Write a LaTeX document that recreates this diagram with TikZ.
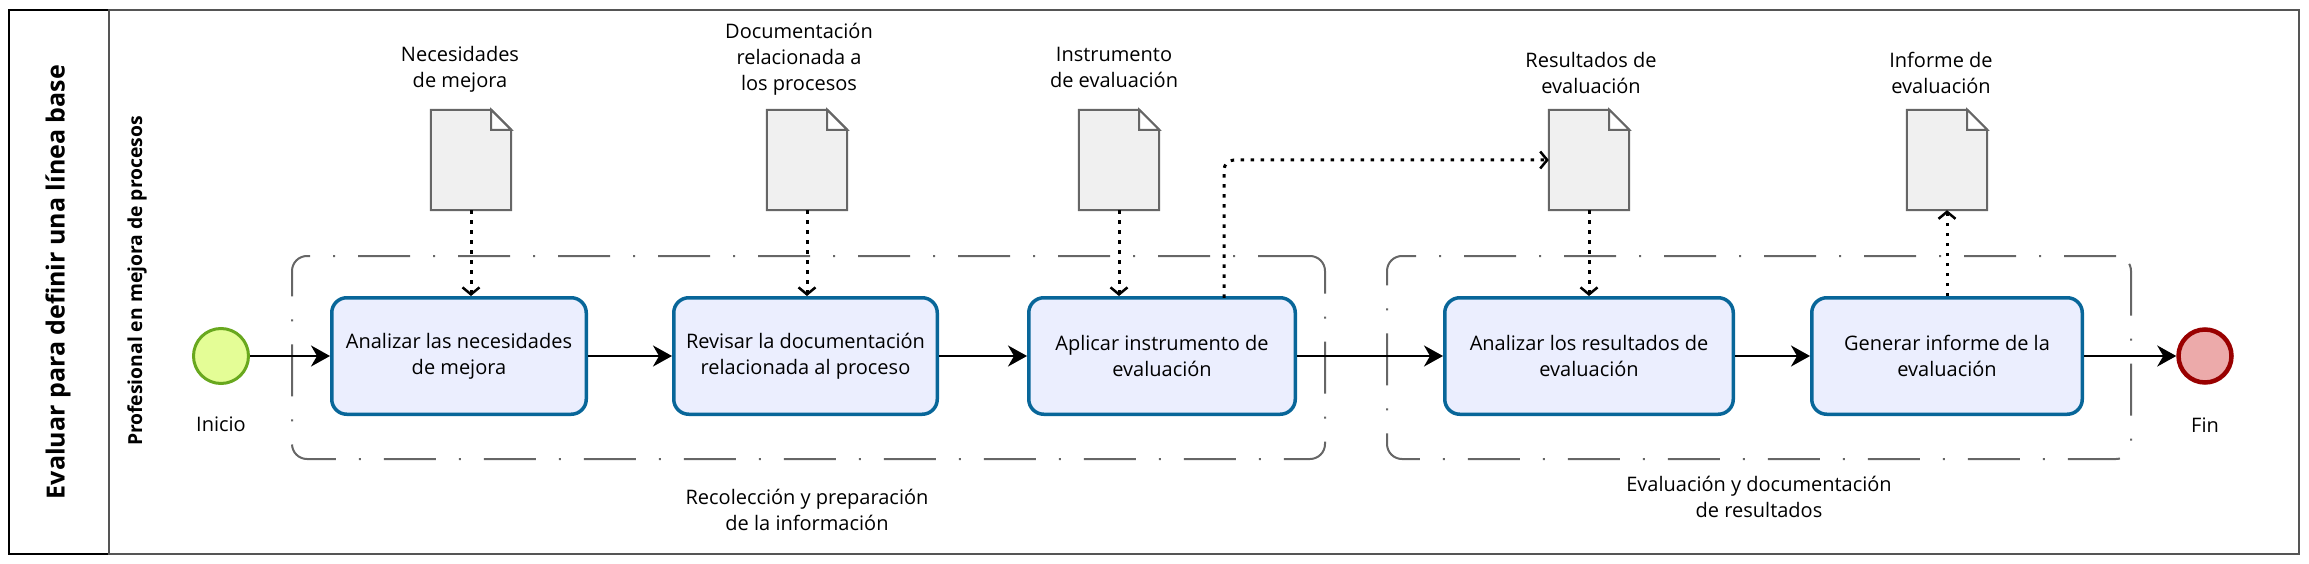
\documentclass[tikz,border=0pt]{standalone}
\usepackage{fontspec}
\setmainfont{Open Sans}
\usetikzlibrary{arrows.meta,calc}
\definecolor{taskblue}{RGB}{8,102,153}
\definecolor{taskfill}{RGB}{235,238,254}
\definecolor{docfill}{RGB}{240,240,240}
\definecolor{docline}{RGB}{102,102,102}
\definecolor{laneline}{RGB}{85,85,85}
\definecolor{startfill}{RGB}{228,253,150}
\definecolor{startline}{RGB}{104,168,30}
\definecolor{endfill}{RGB}{236,170,170}
\definecolor{endline}{RGB}{153,0,0}
\begin{document}
\begin{tikzpicture}[x=1pt,y=-1pt,
  txt/.style={font=\fontsize{20}{26}\selectfont, align=center, inner sep=0pt},
  task/.style={txt, draw=taskblue, fill=taskfill, line width=3.5pt, rounded corners=15pt, minimum height=116.5pt},
  docbox/.style={minimum width=80pt, minimum height=100pt, inner sep=0pt, draw=none},
  docshape/.style={draw=docline, fill=docfill, line width=2pt, line join=miter},
  group/.style={draw=docline, line width=2pt, rounded corners=15pt, dash pattern=on 52pt off 23pt on 2pt off 23pt, inner sep=0pt},
  seq/.style={draw=black, line width=2.5pt, -{Stealth[length=19pt,width=21pt,inset=6pt]}},
  assoc/.style={draw=black, line width=3pt, dash pattern=on 3.5pt off 6.5pt, rounded corners=10pt, -{Straight Barb[length=7pt,width=17pt,line width=2.5pt]}},
  startev/.style={circle, draw=startline, fill=startfill, line width=3pt, minimum size=55pt, inner sep=0pt},
  endev/.style={circle, draw=endline, fill=endfill, line width=4.5pt, minimum size=53pt, inner sep=0pt},
]
\useasboundingbox (0,0) rectangle (2309,564);
% pool and lane
\node[draw=black, line width=2pt, minimum width=100pt, minimum height=544pt, inner sep=0pt] (pool) at (59,282) {};
\node[draw=laneline, line width=2pt, minimum width=2190pt, minimum height=544pt, inner sep=0pt] (lane) at (1204,282) {};
\node[rotate=90, font=\fontsize{25}{28}\selectfont\bfseries, inner sep=0pt] (pooltitle) at (58,282) {Evaluar para definir una línea base};
\node[rotate=90, font=\fontsize{19.3}{22}\selectfont\bfseries, inner sep=0pt] (lanetitle) at (137,281) {Profesional en mejora de procesos};

% groups
\node[group, minimum width=1033pt, minimum height=203pt] (g1) at (808.5,357.5) {};
\node[group, minimum width=744pt, minimum height=203pt] (g2) at (1759,357.5) {};
\node[txt] (g1lab) at (807,510) {Recolección y preparación\\de la información};
\node[txt] (g2lab) at (1759,497) {Evaluación y documentación\\de resultados};

% events
\node[startev] (start) at (221,356) {};
\node[txt] (startlab) at (221,424) {Inicio};
\node[endev] (end) at (2205,356) {};
\node[txt] (endlab) at (2205,425) {Fin};

% tasks
\node[task, minimum width=254.5pt] (t1) at (459,356) {Analizar las necesidades\\de mejora};
\node[task, minimum width=263.5pt] (t2) at (805.5,356) {Revisar la documentación\\relacionada al proceso};
\node[task, minimum width=266.5pt] (t3) at (1162,356) {Aplicar instrumento de\\evaluación};
\node[task, minimum width=288.5pt] (t4) at (1589,356) {Analizar los resultados de\\evaluación};
\node[task, minimum width=270.5pt] (t5) at (1947,356) {Generar informe de la\\evaluación};

% documents
\foreach \n/\x in {d1/471,d2/807,d3/1119,d4/1589,d5/1947}{
  \node[docbox] (\n) at (\x,160) {};
  \draw[docshape] (\n.south west) -- (\n.north west) -- ([xshift=-20pt]\n.north east) -- ([yshift=-20pt]\n.north east) -- (\n.south east) -- cycle;
  \draw[docshape, fill=white] ([xshift=-20pt]\n.north east) -- ([xshift=-20pt,yshift=-20pt]\n.north east) -- ([yshift=-20pt]\n.north east) -- cycle;
}
\node[txt] (d1lab) at (460,69) {Necesidades\\de mejora};
\node[txt] (d2lab) at (799,59) {Documentación\\relacionada a\\los procesos};
\node[txt] (d3lab) at (1114,67) {Instrumento\\de evaluación};
\node[txt] (d4lab) at (1591,73) {Resultados de\\evaluación};
\node[txt] (d5lab) at (1941,73) {Informe de\\evaluación};

% sequence flows
\draw[seq] (start) -- (t1);
\draw[seq] (t1) -- (t2);
\draw[seq] (t2) -- (t3);
\draw[seq] (t3) -- (t4);
\draw[seq] (t4) -- (t5);
\draw[seq] (t5) -- (end);

% associations
\draw[assoc] (d1.south) -- (d1.south |- t1.north);
\draw[assoc] (d2.south) -- (d2.south |- t2.north);
\draw[assoc] (d3.south) -- (d3.south |- t3.north);
\draw[assoc] (d4.south) -- (d4.south |- t4.north);
\draw[assoc] (d5.south |- t5.north) -- (d5.south);
\coordinate (t3out) at (1224,297.75);
\draw[assoc] (t3out) -- (t3out |- d4.west) -- (d4.west);
\end{tikzpicture}
\end{document}
